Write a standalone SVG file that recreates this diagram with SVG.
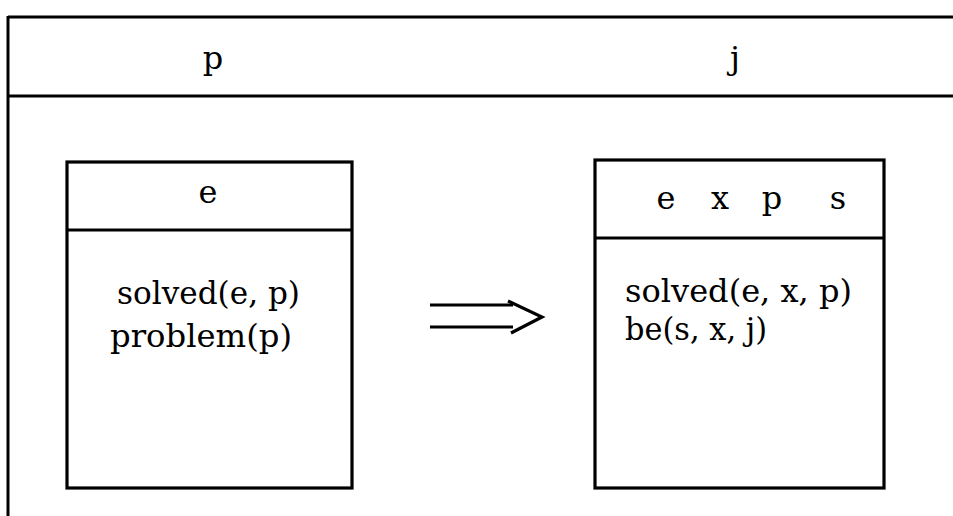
<svg xmlns="http://www.w3.org/2000/svg" width="953" height="516" viewBox="0 0 953 516">
<style>
.ln{stroke:#000;stroke-width:3;fill:none}
.box{stroke:#000;stroke-width:3.2;fill:none}
.t{font-family:"DejaVu Serif","Liberation Serif",serif;font-size:32px;fill:#000}
.c{text-anchor:middle}
</style>
<rect width="953" height="516" fill="#fff"/>
<g id="frame">
<line class="ln" x1="8" y1="17" x2="953" y2="17"/>
<line class="ln" x1="8" y1="96" x2="953" y2="96"/>
<line class="ln" x1="8" y1="16" x2="8" y2="516"/>
<text class="t c" x="213" y="69">p</text>
<text class="t c" x="735" y="69">j</text>
</g>
<g id="left-box">
<rect class="box" x="67" y="162" width="285" height="326"/>
<line class="box" x1="67" y1="230" x2="352" y2="230"/>
<text class="t c" x="208" y="203">e</text>
<text class="t" x="117" y="304" textLength="183" lengthAdjust="spacingAndGlyphs">solved(e, p)</text>
<text class="t" x="110" y="347" textLength="182" lengthAdjust="spacingAndGlyphs">problem(p)</text>
</g>
<g id="right-box">
<rect class="box" x="595" y="160" width="289" height="328"/>
<line class="box" x1="595" y1="238" x2="884" y2="238"/>
<text class="t c" x="666" y="209">e</text>
<text class="t c" x="720" y="209">x</text>
<text class="t c" x="772" y="209">p</text>
<text class="t c" x="838" y="209">s</text>
<text class="t" x="625" y="302" textLength="227" lengthAdjust="spacingAndGlyphs">solved(e, x, p)</text>
<text class="t" x="625" y="340" textLength="142" lengthAdjust="spacingAndGlyphs">be(s, x, j)</text>
</g>
<g id="connectors">
<line class="box" x1="430" y1="305" x2="513" y2="305"/>
<line class="box" x1="430" y1="327" x2="513" y2="327"/>
<polyline class="box" points="508,301 542,317 511,333"/>
</g>
</svg>
